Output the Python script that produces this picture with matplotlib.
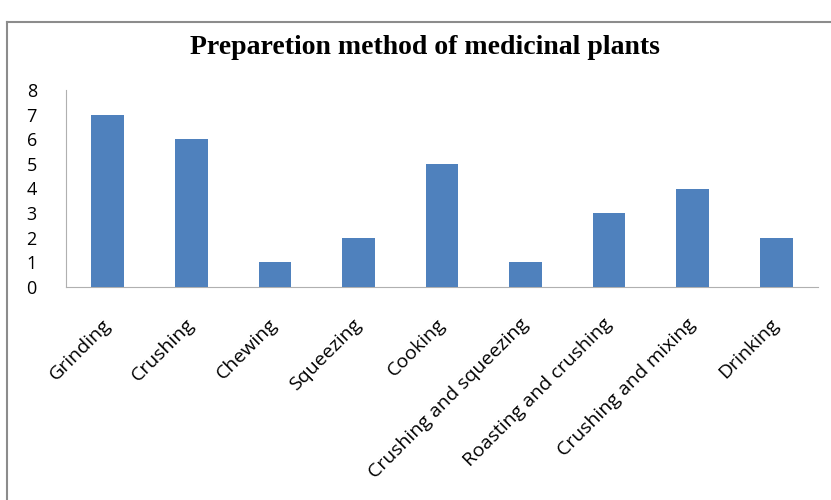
import matplotlib
matplotlib.use("Agg")
import matplotlib.pyplot as plt
from matplotlib.lines import Line2D

methods = ["Grinding", "Crushing", "Chewing", "Squeezing", "Cooking",
           "Crushing and squeezing", "Roasting and crushing",
           "Crushing and mixing", "Drinking"]
counts = [7, 6, 1, 2, 5, 1, 3, 4, 2]
yticks = [0, 1, 2, 3, 4, 5, 6, 7, 8]

fig = plt.figure(figsize=(8.31, 5), dpi=100)
ax = fig.add_axes([66/831, 1 - 287/500, 752/831, 197/500])

ax.bar(range(len(methods)), counts, width=0.39, color="#4F81BD", zorder=3)
ax.set_xlim(-0.5, len(methods) - 0.5)
ax.set_ylim(0, 8)
ax.set_yticks(yticks)
ax.set_xticks(range(len(methods)))
ax.set_xticklabels(methods, rotation=45, ha="right", va="center",
                   rotation_mode="anchor", fontsize=14, family="Open Sans")
for lab in ax.get_yticklabels():
    lab.set_fontsize(13)
    lab.set_family("Open Sans")

for s in ["top", "right"]:
    ax.spines[s].set_visible(False)
ax.spines["left"].set_color("#b0b0b0")
ax.spines["bottom"].set_color("#b0b0b0")
ax.tick_params(axis="y", length=0, pad=21)
ax.tick_params(axis="x", length=0, pad=25)

fig.text(425/831, 1 - 47/500, "Preparetion method of medicinal plants",
         ha="center", va="center", fontsize=20, fontweight="bold",
         family="Liberation Serif")

# outer chart frame (partly cut off in the original)
fig.add_artist(Line2D([7/831, 7/831], [0, 1 - 22/500], color="#8c8c8c", lw=1.5))
fig.add_artist(Line2D([7/831, 1], [1 - 22/500, 1 - 22/500], color="#8c8c8c", lw=1.5))

fig.savefig("out.png", dpi=100)
